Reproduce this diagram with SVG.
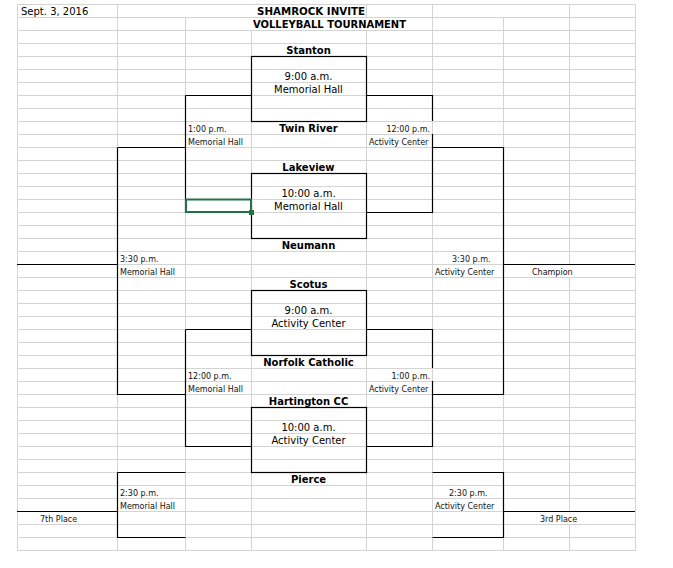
<svg xmlns="http://www.w3.org/2000/svg" width="673" height="568" viewBox="0 0 673 568">
<style>
.g{stroke:#d4d4d4;stroke-width:1;fill:none}
.k{stroke:#000;stroke-width:1.2;fill:none}
.box{stroke:#000;stroke-width:1.2;fill:none}
.t{font-family:"DejaVu Sans",Verdana,sans-serif;font-size:10px;fill:#000}
.b{font-family:"DejaVu Sans",Verdana,sans-serif;font-size:10px;font-weight:bold;fill:#000}
.s{font-family:"DejaVu Sans",Verdana,sans-serif;font-size:8px;fill:#111}
.m{text-anchor:middle}
.e{text-anchor:end}
</style>
<rect width="673" height="568" fill="#fff"/>
<g id="grid">
<path class="g" d="M17,4.5H635M17,17.5H635M17,30.5H635M17,43.5H635M17,56.5H635M17,69.5H635M17,82.5H635M17,95.5H635M17,108.5H635M17,121.5H635M17,134.5H635M17,147.5H635M17,160.5H635M17,173.5H635M17,186.5H635M17,199.5H635M17,212.5H635M17,225.5H635M17,238.5H635M17,251.5H635M17,264.5H635M17,277.5H635M17,290.5H635M17,303.5H635M17,316.5H635M17,329.5H635M17,342.5H635M17,355.5H635M17,368.5H635M17,381.5H635M17,394.5H635M17,407.5H635M17,420.5H635M17,433.5H635M17,446.5H635M17,459.5H635M17,472.5H635M17,485.5H635M17,498.5H635M17,511.5H635M17,524.5H635M17,537.5H635M17,550.5H635"/>
<path class="g" d="M17.5,4V551M117.5,4V551M185.5,17V551M251.5,30V551M366.5,4V17M366.5,30V551M432.5,4V551M503.5,17V551M569.5,4V264M569.5,277V511M569.5,524V551M635.5,4V551"/>
</g>
<g id="title">
<text class="t" x="21" y="15">Sept. 3, 2016</text>
<text class="b" x="257" y="15" textLength="108" lengthAdjust="spacingAndGlyphs">SHAMROCK INVITE</text>
<text class="b" x="253" y="28" textLength="153" lengthAdjust="spacingAndGlyphs">VOLLEYBALL TOURNAMENT</text>
</g>
<g id="connectors">
<path class="k" d="M185.5,95.5H251.5M185.5,95.5V212.5H251.5"/>
<path class="k" d="M366.5,95.5H432.5V121M432.5,134V212.5H366.5"/>
<path class="k" d="M117.5,147.5H185.5M117.5,147.5V394.5H185.5M17,264.5H117.5"/>
<path class="k" d="M432.5,147.5H503.5V394.5H432.5M503.5,264.5H635"/>
<path class="k" d="M185.5,329.5H251.5M185.5,329.5V446.5H251.5"/>
<path class="k" d="M366.5,329.5H432.5V368M432.5,381V446.5H366.5"/>
<path class="k" d="M117.5,472.5H185.5M117.5,472.5V537.5H185.5M17,511.5H117.5"/>
<path class="k" d="M432.5,472.5H503.5V537.5H432.5M503.5,511.5H635"/>
</g>
<g id="team-stanton"><text class="b m" x="308.5" y="54">Stanton</text></g>
<g id="game-1">
<rect class="box" x="251.5" y="56.5" width="115" height="65"/>
<text class="t m" x="308.5" y="80">9:00 a.m.</text>
<text class="t m" x="308.5" y="93">Memorial Hall</text>
</g>
<g id="team-twinriver"><text class="b m" x="308.5" y="132">Twin River</text></g>
<g id="team-lakeview"><text class="b m" x="308.5" y="171">Lakeview</text></g>
<g id="game-2">
<rect class="box" x="251.5" y="173.5" width="115" height="65"/>
<text class="t m" x="308.5" y="197">10:00 a.m.</text>
<text class="t m" x="308.5" y="210">Memorial Hall</text>
</g>
<g id="team-neumann"><text class="b m" x="308.5" y="249">Neumann</text></g>
<g id="team-scotus"><text class="b m" x="308.5" y="288">Scotus</text></g>
<g id="game-3">
<rect class="box" x="251.5" y="290.5" width="115" height="65"/>
<text class="t m" x="308.5" y="314">9:00 a.m.</text>
<text class="t m" x="308.5" y="327">Activity Center</text>
</g>
<g id="team-norfolk"><text class="b m" x="308.5" y="366">Norfolk Catholic</text></g>
<g id="team-hartington"><text class="b m" x="308.5" y="405">Hartington CC</text></g>
<g id="game-4">
<rect class="box" x="251.5" y="407.5" width="115" height="65"/>
<text class="t m" x="308.5" y="431">10:00 a.m.</text>
<text class="t m" x="308.5" y="444">Activity Center</text>
</g>
<g id="team-pierce"><text class="b m" x="308.5" y="483">Pierce</text></g>
<g id="game-5">
<text class="s" x="188" y="131.5">1:00 p.m.</text>
<text class="s" x="188" y="144.5">Memorial Hall</text>
</g>
<g id="game-6">
<text class="s e" x="430" y="131.5">12:00 p.m.</text>
<text class="s" x="369" y="144.5">Activity Center</text>
</g>
<g id="game-7">
<text class="s" x="188" y="378.5">12:00 p.m.</text>
<text class="s" x="188" y="391.5">Memorial Hall</text>
</g>
<g id="game-8">
<text class="s e" x="430" y="378.5">1:00 p.m.</text>
<text class="s" x="369" y="391.5">Activity Center</text>
</g>
<g id="game-9">
<text class="s" x="120" y="261.5">3:30 p.m.</text>
<text class="s" x="120" y="274.5">Memorial Hall</text>
</g>
<g id="game-10">
<text class="s" x="452" y="261.5">3:30 p.m.</text>
<text class="s" x="435" y="274.5">Activity Center</text>
</g>
<g id="champion"><text class="s" x="532" y="274.5">Champion</text></g>
<g id="game-11">
<text class="s" x="120" y="495.5">2:30 p.m.</text>
<text class="s" x="120" y="508.5">Memorial Hall</text>
</g>
<g id="game-12">
<text class="s" x="449" y="495.5">2:30 p.m.</text>
<text class="s" x="435" y="508.5">Activity Center</text>
</g>
<g id="seventh"><text class="s" x="40" y="521.5">7th Place</text></g>
<g id="third"><text class="s" x="540" y="521.5">3rd Place</text></g>
<g id="selection">
<rect x="186" y="199.5" width="65" height="12.5" fill="none" stroke="#217346" stroke-width="2"/>
<rect x="249" y="210" width="5" height="5" fill="#217346"/>
</g>
</svg>
